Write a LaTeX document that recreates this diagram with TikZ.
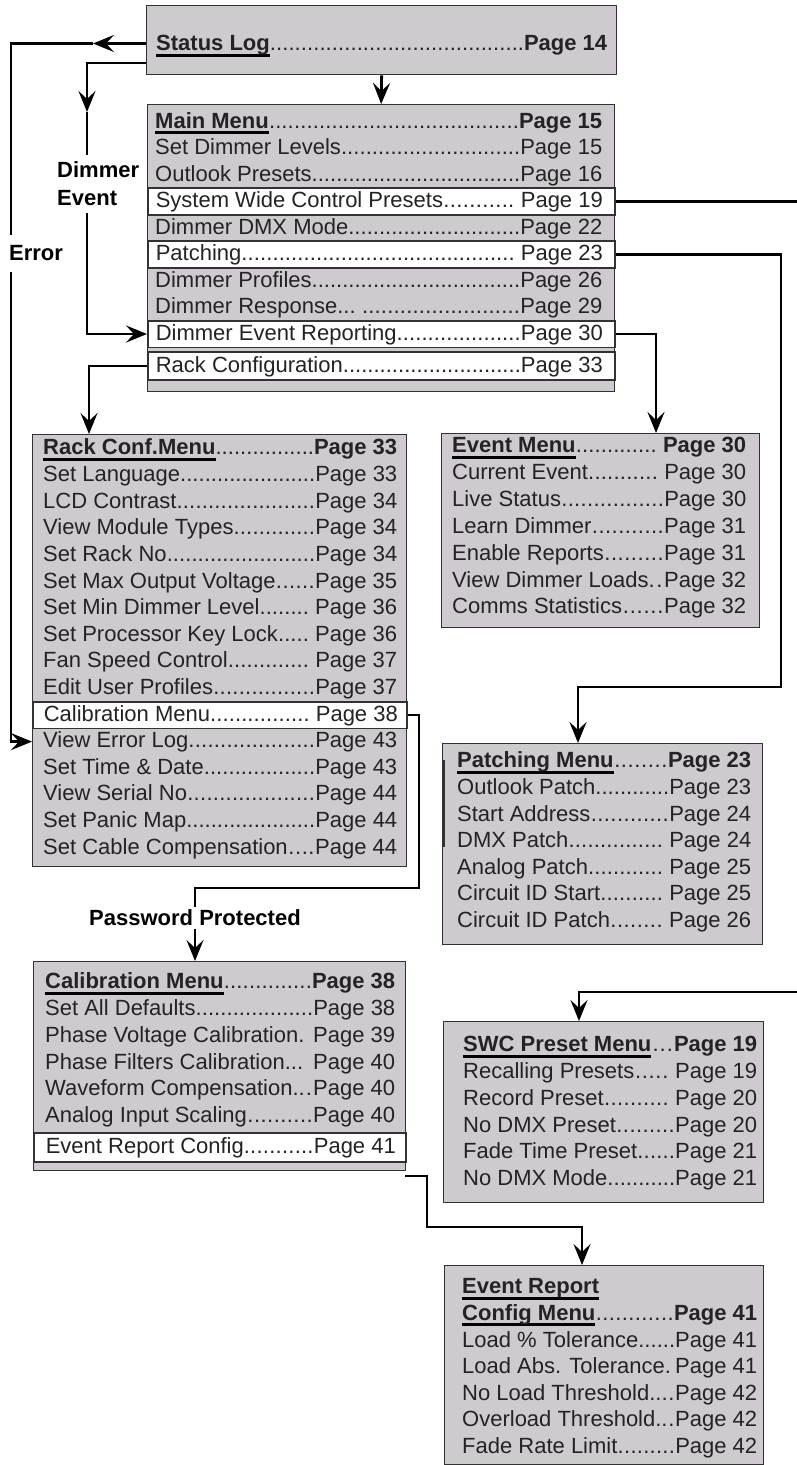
\documentclass[tikz,border=0pt]{standalone}
\usepackage{fontspec}
\setmainfont{Liberation Sans}
\usetikzlibrary{arrows.meta}
\definecolor{boxgray}{RGB}{207,201,208}
\definecolor{edge}{RGB}{50,50,50}
\definecolor{ink}{RGB}{35,35,35}
\newcommand\mfont{\fontsize{22}{26}\selectfont}
\newcommand\hdr[1]{\setbox0\hbox{\bfseries #1}\rlap{\color{black}\rule[-6pt]{\wd0}{2.6pt}}\box0}
\newcommand\rowt[5]{\hbox to #1pt{\hskip#2pt #4\xleaders\hbox{.}\hfill #5\hskip#3pt\vrule width0pt height17pt depth5pt}}
\newcommand\rowh[3]{\hbox to #1pt{\hskip#2pt #3\hfill\vrule width0pt height17pt depth5pt}}
\tikzset{
  menubox/.style={draw=edge, line width=1.3pt, fill=boxgray, inner sep=0pt, anchor=north west},
  rowg/.style={inner sep=0pt, anchor=west, minimum height=26.6pt, text=ink},
  roww/.style={rowg, draw=edge, line width=1.6pt, fill=white},
  conn/.style={line width=2.8pt, draw=black},
  tip/.style={-{Stealth[length=21pt,width=17pt,inset=8pt]}},
  lbl/.style={fill=white, font={\fontsize{22}{28}\selectfont\bfseries}, text=black, inner sep=0pt}
}
\begin{document}
\begin{tikzpicture}[x=1pt,y=-1pt,font=\mfont]
\useasboundingbox[fill=white] (0,0) rectangle (797,1465);

% ---------- Status Log ----------
\node[menubox, minimum width=470pt, minimum height=69pt] (slbox) at (146,5) {};
\node[rowg] (sl) at (146,45) {\rowt{470}{10}{9}{\hdr{Status Log}}{\textbf{Page 14}}};

% ---------- Main Menu ----------
\node[menubox, minimum width=467pt, minimum height=287pt] (mmbox) at (147,104) {};
\node[rowg] (mm1) at (147,122.5) {\rowt{467}{8}{12}{\hdr{Main Menu}}{\textbf{Page 15}}};
\node[rowg] (mm2) at (147,148.5) {\rowt{467}{8}{12}{Set Dimmer Levels}{Page 15}};
\node[rowg] (mm3) at (147,175) {\rowt{467}{8}{12}{Outlook Presets}{Page 16}};
\node[roww] (mm4) at (147,201.5) {\rowt{467}{8}{12}{System Wide Control Presets}{\ Page 19}};
\node[rowg] (mm5) at (147,228) {\rowt{467}{8}{12}{Dimmer DMX Mode}{Page 22}};
\node[roww] (mm6) at (147,254.5) {\rowt{467}{8}{12}{Patching}{\ Page 23}};
\node[rowg] (mm7) at (147,281) {\rowt{467}{8}{12}{Dimmer Profiles}{Page 26}};
\node[rowg] (mm8) at (147,307.5) {\rowt{467}{8}{12}{Dimmer Response...\ }{Page 29}};
\node[roww] (mm9) at (147,334) {\rowt{467}{8}{12}{Dimmer Event Reporting}{Page 30}};
\node[roww, minimum height=28pt] (mm10) at (147,366) {\rowt{467}{8}{12}{Rack Configuration}{Page 33}};

% ---------- Rack Conf. Menu ----------
\node[menubox, minimum width=374pt, minimum height=432pt] (rkbox) at (32,434) {};
\node[rowg] (rk0) at (32,449) {\rowt{374}{11}{9}{\hdr{Rack Conf.Menu}}{\textbf{Page 33}}};
\node[rowg] (rk1) at (32,475.6) {\rowt{374}{11}{9}{Set Language}{Page 33}};
\node[rowg] (rk2) at (32,502.2) {\rowt{374}{11}{9}{LCD Contrast}{Page 34}};
\node[rowg] (rk3) at (32,528.8) {\rowt{374}{11}{9}{View Module Types}{Page 34}};
\node[rowg] (rk4) at (32,555.4) {\rowt{374}{11}{9}{Set Rack No}{Page 34}};
\node[rowg] (rk5) at (32,582) {\rowt{374}{11}{9}{Set Max Output Voltage}{Page 35}};
\node[rowg] (rk6) at (32,608.6) {\rowt{374}{11}{9}{Set Min Dimmer Level}{\ Page 36}};
\node[rowg] (rk7) at (32,635.2) {\rowt{374}{11}{9}{Set Processor Key Lock}{\ Page 36}};
\node[rowg] (rk8) at (32,661.8) {\rowt{374}{11}{9}{Fan Speed Control}{\ Page 37}};
\node[rowg] (rk9) at (32,688.4) {\rowt{374}{11}{9}{Edit User Profiles}{Page 37}};
\node[roww] (rk10) at (32,715) {\rowt{374}{11}{9}{Calibration Menu}{\ Page 38}};
\node[rowg] (rk11) at (32,741.6) {\rowt{374}{11}{9}{View Error Log}{Page 43}};
\node[rowg] (rk12) at (32,768.2) {\rowt{374}{11}{9}{Set Time \& Date}{Page 43}};
\node[rowg] (rk13) at (32,794.8) {\rowt{374}{11}{9}{View Serial No}{Page 44}};
\node[rowg] (rk14) at (32,821.4) {\rowt{374}{11}{9}{Set Panic Map}{Page 44}};
\node[rowg] (rk15) at (32,848) {\rowt{374}{11}{9}{Set Cable Compensation}{Page 44}};

% ---------- Event Menu ----------
\node[menubox, minimum width=318pt, minimum height=194pt] (evbox) at (441,433) {};
\node[rowg] (ev0) at (441,447) {\rowt{318}{11}{13}{\hdr{Event Menu}}{\ \textbf{Page 30}}};
\node[rowg] (ev1) at (441,473.8) {\rowt{318}{11}{13}{Current Event}{\ Page 30}};
\node[rowg] (ev2) at (441,500.6) {\rowt{318}{11}{13}{Live Status}{Page 30}};
\node[rowg] (ev3) at (441,527.4) {\rowt{318}{11}{13}{Learn Dimmer}{Page 31}};
\node[rowg] (ev4) at (441,554.2) {\rowt{318}{11}{13}{Enable Reports}{Page 31}};
\node[rowg] (ev5) at (441,581) {\rowt{318}{11}{13}{View Dimmer Loads.}{Page 32}};
\node[rowg] (ev6) at (441,607.8) {\rowt{318}{11}{13}{Comms Statistics}{Page 32}};

% ---------- Patching Menu ----------
\node[menubox, minimum width=320pt, minimum height=201pt] (ptbox) at (442,743) {};
\node[rowg] (pt0) at (442,762) {\rowt{320}{15}{11}{\hdr{Patching Menu}}{\textbf{Page 23}}};
\node[rowg] (pt1) at (442,788.5) {\rowt{320}{15}{11}{Outlook Patch}{Page 23}};
\node[rowg] (pt2) at (442,815) {\rowt{320}{15}{11}{Start Address}{Page 24}};
\node[rowg] (pt3) at (442,841.5) {\rowt{320}{15}{11}{DMX Patch}{\ Page 24}};
\node[rowg] (pt4) at (442,868) {\rowt{320}{15}{11}{Analog Patch}{\ Page 25}};
\node[rowg] (pt5) at (442,894.5) {\rowt{320}{15}{11}{Circuit ID Start}{\ Page 25}};
\node[rowg] (pt6) at (442,921) {\rowt{320}{15}{11}{Circuit ID Patch}{\ Page 26}};
\draw[line width=1.8pt, edge] (444,760) -- (444,847);

% ---------- Calibration Menu ----------
\node[menubox, minimum width=372pt, minimum height=209pt] (cabox) at (33,961) {};
\node[rowg] (ca0) at (33,983) {\rowt{372}{12}{10}{\hdr{Calibration Menu}}{\textbf{Page 38}}};
\node[rowg] (ca1) at (33,1009.7) {\rowt{372}{12}{10}{Set All Defaults}{Page 38}};
\node[rowg] (ca2) at (33,1036.4) {\rowt{372}{12}{10}{Phase Voltage Calibration.}{\,Page 39}};
\node[rowg] (ca3) at (33,1063.1) {\rowt{372}{12}{10}{Phase Filters Calibration...}{\ Page 40}};
\node[rowg] (ca4) at (33,1089.8) {\rowt{372}{12}{10}{Waveform Compensation..}{Page 40}};
\node[rowg] (ca5) at (33,1116.5) {\rowt{372}{12}{10}{Analog Input Scaling}{Page 40}};
\node[roww, minimum height=29pt] (ca6) at (33,1147.5) {\rowt{372}{12}{10}{Event Report Config.}{Page 41}};

% ---------- SWC Preset Menu ----------
\node[menubox, minimum width=320pt, minimum height=181pt] (swbox) at (443,1021) {};
\node[rowg] (sw0) at (443,1046) {\rowt{320}{20}{6}{\hdr{SWC Preset Menu}}{\textbf{Page 19}}};
\node[rowg] (sw1) at (443,1072.7) {\rowt{320}{20}{6}{Recalling Presets}{\ Page 19}};
\node[rowg] (sw2) at (443,1099.4) {\rowt{320}{20}{6}{Record Preset}{\ Page 20}};
\node[rowg] (sw3) at (443,1126.1) {\rowt{320}{20}{6}{No DMX Preset}{Page 20}};
\node[rowg] (sw4) at (443,1152.8) {\rowt{320}{20}{6}{Fade Time Preset}{Page 21}};
\node[rowg] (sw5) at (443,1179.5) {\rowt{320}{20}{6}{No DMX Mode}{Page 21}};

% ---------- Event Report Config Menu ----------
\node[menubox, minimum width=319pt, minimum height=199pt] (ecbox) at (444,1265) {};
\node[rowg] (ec0) at (444,1288) {\rowh{319}{18}{\hdr{Event Report}}};
\node[rowg] (ec1) at (444,1314.5) {\rowt{319}{18}{6}{\hdr{Config Menu}}{\textbf{Page 41}}};
\node[rowg] (ec2) at (444,1341) {\rowt{319}{18}{6}{Load \% Tolerance}{Page 41}};
\node[rowg] (ec3) at (444,1367.5) {\rowt{319}{18}{6}{Load Abs. Tolerance.}{Page 41}};
\node[rowg] (ec4) at (444,1394) {\rowt{319}{18}{6}{No Load Threshold...}{Page 42}};
\node[rowg] (ec5) at (444,1420.5) {\rowt{319}{18}{6}{Overload Threshold..}{Page 42}};
\node[rowg] (ec6) at (444,1447) {\rowt{319}{18}{6}{Fade Rate Limit}{Page 42}};

% ---------- connectors ----------
\draw[conn,tip] (slbox.south) -- (mmbox.north);

\coordinate (e1) at (93,43.5);
\coordinate (e2) at (11,43.5);
\draw[conn,tip] (e1 -| slbox.west) -- (e1);
\draw[conn,tip] (e1) -- (e2) -- (e2 |- rk11.west) -- (rk11.west);

\coordinate (d1) at (87,63);
\coordinate (d2) at (87,112);
\draw[conn,tip] (d1 -| slbox.west) -- (d1) -- (d2);
\draw[conn,tip] (d2) -- (d2 |- mm9.west) -- (mm9.west);

\coordinate (r1) at (89,366);
\draw[conn,tip] (mm10.west) -- (r1) -- (r1 |- rkbox.north);

\coordinate (v1) at (656,334);
\draw[conn,tip] (mm9.east) -- (v1) -- (v1 |- evbox.north);

\coordinate (p1) at (781,254.5);
\coordinate (p2) at (781,687);
\coordinate (p3) at (578,687);
\draw[conn,tip] (mm6.east) -- (p1) -- (p2) -- (p3) -- (p3 |- ptbox.north);

\coordinate (s1) at (797,201.5);
\draw[conn] (mm4.east) -- (s1);

\coordinate (w1) at (797,992);
\coordinate (w2) at (579,992);
\draw[conn,tip] (w1) -- (w2) -- (w2 |- swbox.north);

\coordinate (c1) at (419,715);
\coordinate (c2) at (419,888);
\coordinate (c3) at (195,888);
\draw[conn,tip] (rk10.east) -- (c1) -- (c2) -- (c3) -- (c3 |- cabox.north);

\coordinate (g0) at (405,1176);
\coordinate (g1) at (427,1176);
\coordinate (g2) at (427,1227);
\coordinate (g3) at (582,1227);
\draw[conn,tip] (g0) -- (g1) -- (g2) -- (g3) -- (g3 |- ecbox.north);

% ---------- labels ----------
\node[lbl, anchor=west, minimum height=37pt] (err) at (9,253) {Error};
\node[lbl, anchor=west, align=left, minimum height=58pt] (dev) at (57,184) {Dimmer\\Event};
\node[lbl, minimum height=22pt] (pw) at (195,917.5) {Password Protected};
\end{tikzpicture}
\end{document}
